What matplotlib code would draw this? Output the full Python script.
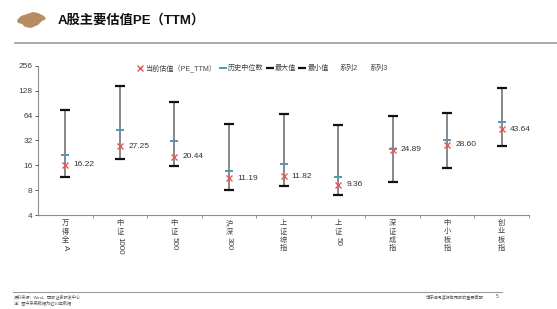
import matplotlib
matplotlib.use("Agg")
import matplotlib.pyplot as plt
from matplotlib.lines import Line2D
from matplotlib.patches import Polygon
from matplotlib.textpath import TextPath
from matplotlib.font_manager import FontProperties
import numpy as np

plt.rcParams['font.family'] = ['Liberation Sans', 'Noto Sans CJK SC']

categories = ["万得全A", "中证1000", "中证500", "沪深300", "上证综指", "上证50", "深证成指", "中小板指", "创业板指"]
current_pe = [16.22, 27.25, 20.44, 11.19, 11.82, 9.36, 24.89, 28.60, 43.64]
median_pe = [21.2, 42.5, 31.6, 13.7, 16.8, 11.6, 25.3, 32.5, 53.0]
max_pe = [75.0, 146.0, 93.0, 51.3, 67.7, 49.2, 64.0, 68.6, 140.0]
min_pe = [11.6, 19.1, 15.7, 8.1, 9.0, 7.06, 10.05, 14.7, 27.5]
yticks = [4, 8, 16, 32, 64, 128, 256]

W, H = 557, 309
fig = plt.figure(figsize=(W / 100, H / 100), dpi=100)
ax = fig.add_axes([38 / W, 1 - 215 / H, (529 - 38) / W, (215 - 66) / H])

x = np.arange(len(categories)) + 0.5
ax.set_yscale('log', base=2)
ax.set_ylim(4, 256)
ax.set_xlim(0, len(categories))

ax.vlines(x, min_pe, max_pe, color='#7f7f7f', lw=1.3, zorder=1)
ax.plot(x, max_pe, ls='none', marker='_', ms=6.5, mew=1.6, color='#111111', zorder=2)
ax.plot(x, min_pe, ls='none', marker='_', ms=6.5, mew=1.6, color='#111111', zorder=2)
ax.plot(x, median_pe, ls='none', marker='_', ms=6, mew=1.4, color='#4a9bbd', zorder=3)
ax.plot(x, current_pe, ls='none', marker='x', ms=4.5, mew=1.0, color='#e05a5a', zorder=4)
for xi, v in zip(x, current_pe):
    ax.annotate(f"{v:.2f}", (xi, v), xytext=(6, 0), textcoords='offset points',
                ha='left', va='center', fontsize=6, color='#333333')

ax.set_yticks(yticks)
ax.set_yticklabels([str(t) for t in yticks])
ax.yaxis.set_minor_locator(matplotlib.ticker.NullLocator())
ax.tick_params(axis='y', labelsize=6, colors='#404040', length=2, width=0.6, pad=2)
ax.set_xticks(np.arange(1, len(categories) + 1))
ax.set_xticklabels([])
ax.tick_params(axis='x', length=2.5, width=0.6, colors='#808080')
for s in ['top', 'right']:
    ax.spines[s].set_visible(False)
for s in ['left', 'bottom']:
    ax.spines[s].set_color('#909090')
    ax.spines[s].set_linewidth(0.8)

# vertical category labels (CJK upright, Latin rotated)
fs = 5.2
latin_prop = FontProperties(family='Liberation Sans', size=fs)
trans = ax.get_xaxis_transform()
for xi, lab in zip(x, categories):
    off = -5.0 * 72 / 100
    segs = []
    cur = ''
    for ch in lab:
        if ord(ch) < 128:
            cur += ch
        else:
            if cur:
                segs.append(('L', cur)); cur = ''
            segs.append(('C', ch))
    if cur:
        segs.append(('L', cur))
    for kind, s in segs:
        if kind == 'C':
            ax.annotate(s, (xi, 0), xytext=(0, off), textcoords='offset points', xycoords=trans,
                        ha='center', va='top', fontsize=fs, color='#404040')
            off -= fs * 1.15
        else:
            w = TextPath((0, 0), s, size=fs, prop=latin_prop).get_extents().width
            ax.annotate(s, (xi, 0), xytext=(0, off - 0.3), textcoords='offset points', xycoords=trans,
                        ha='center', va='top', fontsize=fs * 1.1, rotation=270, color='#404040')
            off -= w * 1.1 + 1

# legend
handles = [
    Line2D([], [], ls='none', marker='x', ms=4.5, mew=1.0, color='#e05a5a'),
    Line2D([], [], ls='none', marker='_', ms=6, mew=1.4, color='#4a9bbd'),
    Line2D([], [], ls='none', marker='_', ms=6, mew=1.6, color='#111111'),
    Line2D([], [], ls='none', marker='_', ms=6, mew=1.6, color='#111111'),
    Line2D([], [], ls='none'),
    Line2D([], [], ls='none'),
]
labels = ["当前估值（PE_TTM）", "历史中位数", "最大值", "最小值", "系列2", "系列3"]
fig.legend(handles, labels, loc='center', bbox_to_anchor=(263 / W, 1 - 68 / H), ncol=6,
           frameon=False, fontsize=5.1, handlelength=0.6, handletextpad=0.4, columnspacing=0.6,
           labelcolor='#404040')

# title area
bull = [(17, 20), (21, 16), (27, 14), (33, 12), (38, 13), (44, 16), (46, 19), (42, 21),
        (38, 25), (31, 28), (25, 27), (22, 24), (18, 23)]
fig.patches.append(Polygon([(px / W, 1 - py / H) for px, py in bull], closed=True,
                           transform=fig.transFigure, facecolor='#b58d62', edgecolor='none'))
fig.text(58 / W, 1 - 20 / H, "A股主要估值PE（TTM）", fontsize=9.5, fontweight='bold',
         ha='left', va='center', color='#111111')
fig.add_artist(Line2D([15 / W, 1.0], [1 - 43 / H, 1 - 43 / H], transform=fig.transFigure,
                      color='#9a9a9a', lw=1.2))

# footer
fig.add_artist(Line2D([13 / W, 502 / W], [1 - 292 / H, 1 - 292 / H], transform=fig.transFigure,
                      color='#9a9a9a', lw=0.8))
fig.text(14 / W, 1 - 297 / H, "资料来源：Wind，西部证券研发中心", fontsize=3, color='#555555', va='center')
fig.text(14 / W, 1 - 303 / H, "注：图中采用数据为近10年数据", fontsize=3, color='#555555', va='center')
fig.text(484 / W, 1 - 297 / H, "请仔细阅读报告尾部的重要声明", fontsize=3, color='#555555', va='center', ha='right')
fig.text(496 / W, 1 - 297 / H, "5", fontsize=3.5, color='#555555', va='center')

fig.savefig("out.png", dpi=100)
